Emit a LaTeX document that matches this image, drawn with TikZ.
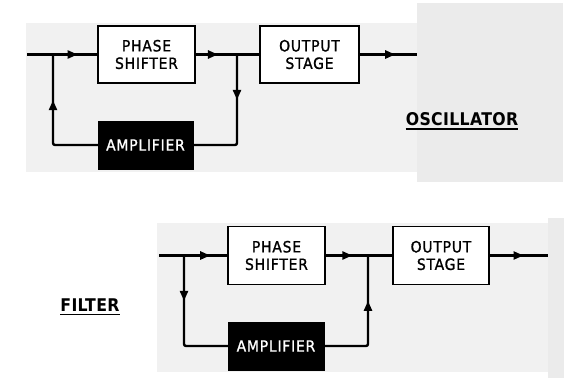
\documentclass[tikz,border=0pt]{standalone}
\usepackage{fontspec}
\setmainfont{DejaVu Sans}
\newfontfamily\boxfont[LetterSpace=5,FakeBold=1.2]{DejaVu Sans Condensed}
\newfontfamily\labfont[LetterSpace=2]{DejaVu Sans Condensed}
\usetikzlibrary{arrows.meta,decorations.markings}
\tikzset{
  panel/.style={fill=gray!11, draw=none},
  speckle/.style={fill=gray!16, draw=none},
  blockbox/.style={draw=black, line width=1.4pt, fill=white, align=center,
    font=\boxfont\fontsize{15.5}{17.5}\selectfont, inner sep=0pt},
  ampbox/.style={draw=black, fill=black, text=white, inner sep=0pt,
    font=\boxfont\fontsize{15.5}{17.5}\selectfont},
  wire/.style={line width=2.4pt, black},
  midarrow/.style={postaction={decorate}, decoration={markings,
    mark=at position #1 with {\arrow{Triangle[length=10pt,width=8pt]}}}},
  caption/.style={font=\labfont\bfseries\fontsize{17.5}{19}\selectfont, inner sep=0pt}
}
\begin{document}
\begin{tikzpicture}[x=1pt,y=-1pt]
\useasboundingbox (0,0) rectangle (566,389);
\fill[white] (0,0) rectangle (566,389);
% background panels
\path[speckle] (417,3) rectangle (563,182);
\path[panel] (26,23) rectangle (417,172);
\path[speckle] (548,218) rectangle (564,378);
\path[panel] (157,223) rectangle (548,372);

% ---------- top: oscillator ----------
\node[blockbox, minimum width=97pt, minimum height=57pt] (ps1) at (146.5,54.5) {PHASE\\SHIFTER};
\node[blockbox, minimum width=99pt, minimum height=57pt] (os1) at (309.5,54.5) {OUTPUT\\STAGE};
\node[ampbox, minimum width=95pt, minimum height=48pt] (amp1) at (145.5,145) {AMPLIFIER};
\coordinate (in1) at (27,54.5);
\coordinate (j1) at (53,54.5);
\coordinate (j2) at (237,54.5);
\coordinate (out1) at (417,54.5);

\draw[wire, midarrow=0.72] (in1) -- (ps1.west);
\draw[wire, midarrow=0.35] (ps1.east) -- (os1.west);
\draw[wire, midarrow=0.62] (os1.east) -- (out1);
\draw[wire, midarrow=0.34, rounded corners=2pt] (j2) |- (amp1.east);
\draw[wire, midarrow=0.66, rounded corners=2pt] (amp1.west) -| (j1);

\node[caption] (osc) at (462,119) {OSCILLATOR};
\draw[line width=1.4pt] ([yshift=-3pt]osc.south west) -- ([yshift=-3pt]osc.south east);

% ---------- bottom: filter ----------
\node[blockbox, minimum width=97pt, minimum height=58pt] (ps2) at (276.5,255.5) {PHASE\\SHIFTER};
\node[blockbox, minimum width=96pt, minimum height=58pt] (os2) at (441,255.5) {OUTPUT\\STAGE};
\node[ampbox, minimum width=96pt, minimum height=48pt] (amp2) at (276,346) {AMPLIFIER};
\coordinate (in2) at (159,255.5);
\coordinate (j3) at (184,255.5);
\coordinate (j4) at (368,255.5);
\coordinate (out2) at (548,255.5);

\draw[wire, midarrow=0.75] (in2) -- (ps2.west);
\draw[wire, midarrow=0.4] (ps2.east) -- (os2.west);
\draw[wire, midarrow=0.58] (os2.east) -- (out2);
\draw[wire, midarrow=0.34, rounded corners=2pt] (j3) |- (amp2.west);
\draw[wire, midarrow=0.66, rounded corners=2pt] (amp2.east) -| (j4);

\node[caption] (flt) at (90,305) {FILTER};
\draw[line width=1.4pt] ([yshift=-3pt]flt.south west) -- ([yshift=-3pt]flt.south east);
\end{tikzpicture}
\end{document}
